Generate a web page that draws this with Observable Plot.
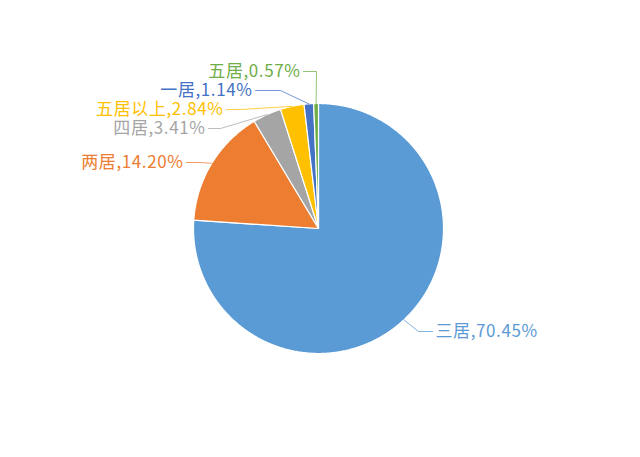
<!DOCTYPE html>
<html>
<head>
<meta charset="utf-8">
<script src="https://cdn.jsdelivr.net/npm/d3@7"></script>
<script src="https://cdn.jsdelivr.net/npm/@observablehq/plot@0.6"></script>
<style>
  html, body { margin: 0; padding: 0; background: #fff; }
  #chart { width: 640px; height: 457px; }
</style>
</head>
<body>
<div id="chart"></div>
<script>
// Data
const categories = ["三居", "两居", "四居", "五居以上", "一居", "五居"];
const values = [70.45, 14.20, 3.41, 2.84, 1.14, 0.57];
const labelTexts = ["三居,70.45%", "两居,14.20%", "四居,3.41%", "五居以上,2.84%", "一居,1.14%", "五居,0.57%"];
const colors = ["#5B9BD5", "#ED7D31", "#A5A5A5", "#FFC000", "#4472C4", "#70AD47"];

// Label layout (unit-radius coordinates): text x, text y, elbow x
const labelX = [0.936, -1.08, -0.904, -0.76, -0.528, -0.144];
const labelY = [0.824, -0.528, -0.80, -0.952, -1.104, -1.256];
const elbowX = [0.80, -0.944, -0.784, -0.624, -0.304, -0.016];

const pie = d3.pie().sort(null).value(d => d)(values);
const pt = a => [Math.sin(a), -Math.cos(a)];

const slices = pie.map((p, i) => {
  const n = Math.max(2, Math.ceil((p.endAngle - p.startAngle) / (Math.PI / 360)));
  const ring = [[0, 0]];
  for (let k = 0; k <= n; k++) ring.push(pt(p.startAngle + (p.endAngle - p.startAngle) * k / n));
  ring.push([0, 0]);
  return {type: "Feature", properties: {cat: categories[i], color: colors[i]}, geometry: {type: "Polygon", coordinates: [ring]}};
});

// leader lines
const leaders = [];
pie.forEach((p, i) => {
  const mid = (p.startAngle + p.endAngle) / 2;
  const [ex, ey] = pt(mid);
  const right = labelX[i] > 0;
  const endX = labelX[i] + (right ? -0.024 : 0.024);
  leaders.push({id: i, x: ex, y: ey, color: colors[i]});
  leaders.push({id: i, x: elbowX[i], y: labelY[i], color: colors[i]});
  leaders.push({id: i, x: endX, y: labelY[i], color: colors[i]});
});

const labels = categories.map((c, i) => ({text: labelTexts[i], x: labelX[i], y: labelY[i], color: colors[i], right: labelX[i] > 0}));

const chart = Plot.plot({
  width: 640,
  height: 457,
  marginLeft: 193,
  marginRight: 197,
  marginTop: 103,
  marginBottom: 104,
  projection: {type: "identity", clip: false, domain: {type: "MultiPoint", coordinates: [[-1, -1], [1, 1]]}},
  style: {background: "#fff", fontFamily: "'Noto Sans CJK SC', 'Noto Sans', sans-serif", letterSpacing: "0.6px"},
  marks: [
    Plot.geo(slices, {fill: d => d.properties.color, stroke: "#fff", strokeWidth: 1.2}),
    Plot.line(leaders, {x: "x", y: "y", z: "id", stroke: "color", strokeOpacity: 0.75, strokeWidth: 1, curve: "linear", clip: false}),
    Plot.text(labels.filter(d => d.right), {x: "x", y: "y", text: "text", fill: "color", textAnchor: "start", fontSize: 17, clip: false}),
    Plot.text(labels.filter(d => !d.right), {x: "x", y: "y", text: "text", fill: "color", textAnchor: "end", fontSize: 17, clip: false})
  ]
});
document.getElementById("chart").appendChild(chart);
</script>
</body>
</html>
